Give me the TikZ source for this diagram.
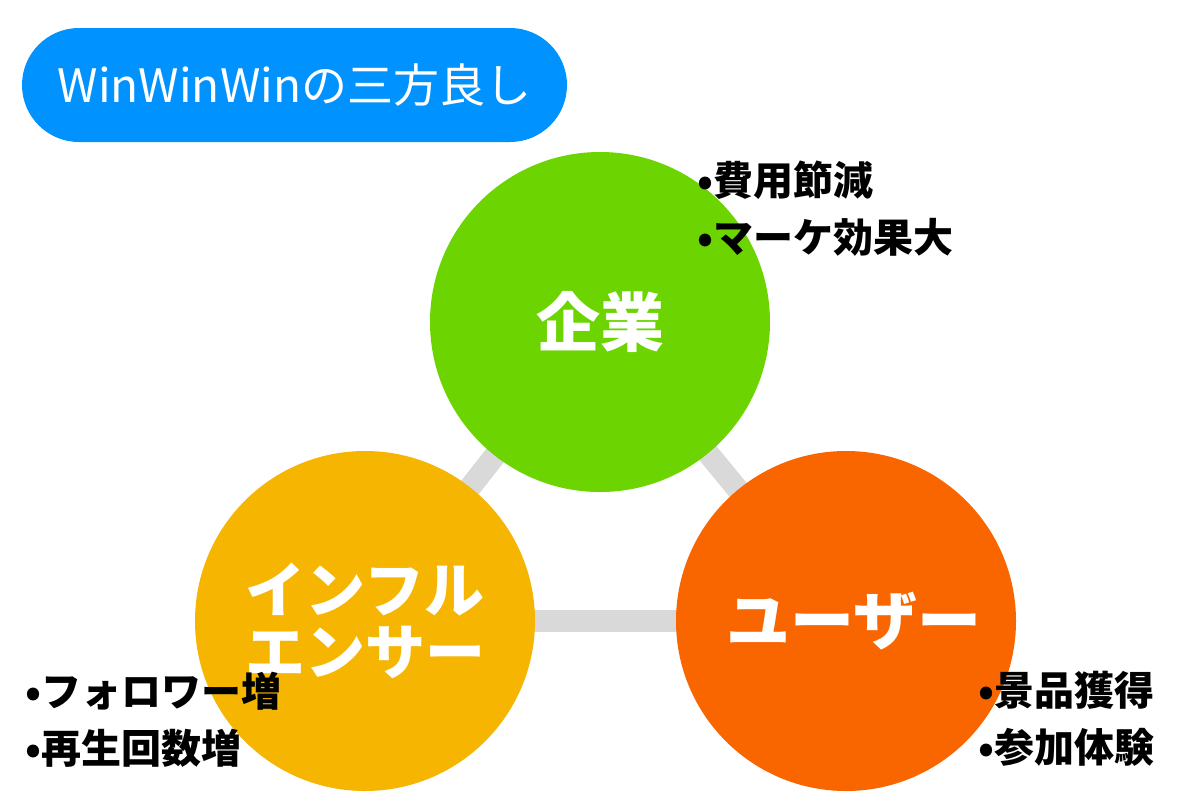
\documentclass[tikz,border=0pt]{standalone}
\usepackage{fontspec}
\setmainfont{Noto Sans CJK JP}
\usetikzlibrary{backgrounds}
\definecolor{pillblue}{HTML}{0093FF}
\definecolor{cgreen}{HTML}{6CD400}
\definecolor{cyellow}{HTML}{F6B500}
\definecolor{corange}{HTML}{F96600}
\definecolor{edgegray}{HTML}{D9D9D9}
\tikzset{
  party/.style={circle, minimum size=170pt, inner sep=0pt, text=white, align=center,
    font=\bfseries\fontsize{32}{31}\selectfont},
  edge/.style={draw=edgegray, line width=11pt},
  bullets/.style={anchor=west, align=left, inner sep=0pt, text=black,
    font=\bfseries\fontsize{20}{28.5}\selectfont},
}
\begin{document}
\begin{tikzpicture}[x=0.5pt,y=-0.5pt]
\useasboundingbox (0,0) rectangle (1200,800);
\node[fill=pillblue, rounded corners=28.5pt, minimum width=272.5pt, minimum height=57pt, inner sep=0pt,
  text=white, font=\fontsize{23}{26}\selectfont] (title) at (294.5,85) {WinWinWinの三方良し};
\node[party, fill=cgreen] (kigyo) at (600,322) {企業};
\node[party, fill=cyellow, font=\bfseries\fontsize{30}{31}\selectfont] (infl) at (365,621) {インフル\\エンサー};
\node[party, fill=corange] (user) at (846,621) {\hspace{8pt}ユーザー};
\begin{scope}[on background layer]
\fill[white] (0,0) rectangle (1200,800);
\draw[edge] (kigyo.center) -- (infl.center);
\draw[edge] (kigyo.center) -- (user.center);
\draw[edge] (infl.center) -- (user.center);
\end{scope}
\node[bullets] (kb) at (697,208.5) {•費用節減\\•マーケ効果大};
\node[bullets] (ib) at (25,720) {•フォロワー増\\•再生回数増};
\node[bullets] (ub) at (978,719) {•景品獲得\\•参加体験};
\end{tikzpicture}
\end{document}
